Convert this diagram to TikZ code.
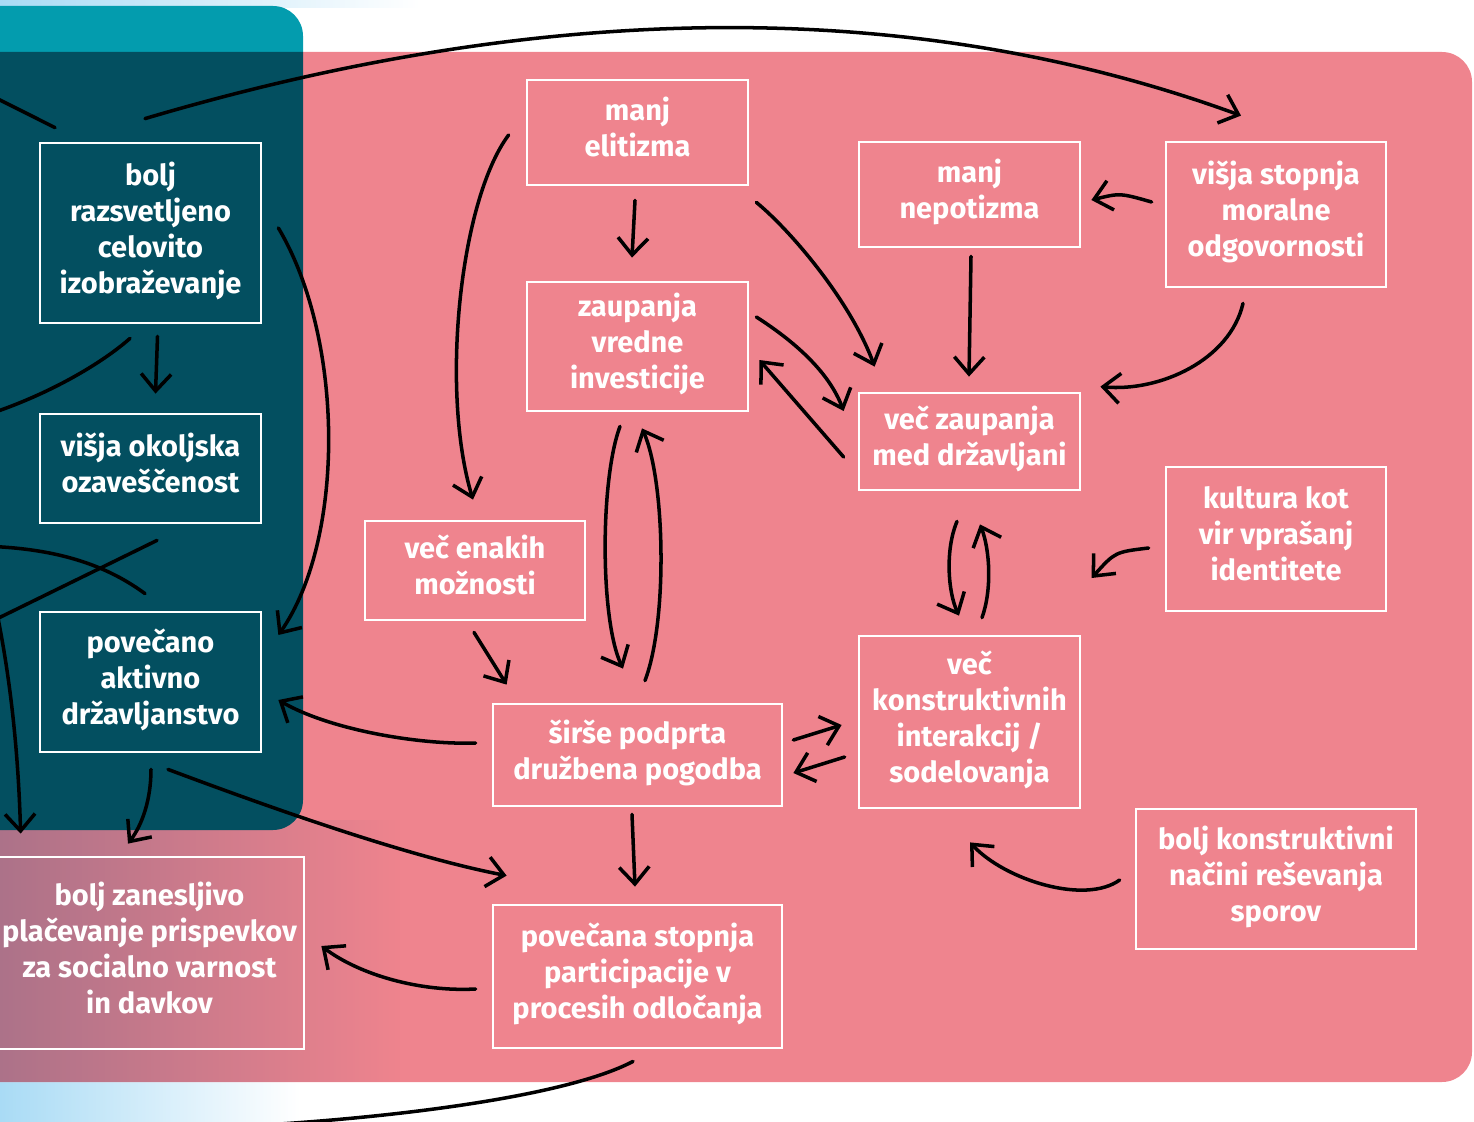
\documentclass[tikz,border=0pt]{standalone}
\usepackage{fontspec}
\setmainfont{Fira Sans}
\usetikzlibrary{arrows.meta,fadings}
\definecolor{rose}{HTML}{EF848E}
\definecolor{deepteal}{HTML}{034F60}
\definecolor{lagoon}{HTML}{039CAE}
\definecolor{skyblue}{HTML}{A9DBF5}
\definecolor{mauve}{HTML}{9C6E88}
\tikzset{
  box/.style={draw=white, line width=1.6pt, text=white, align=center, inner sep=0pt,
    font=\bfseries\fontsize{16.5}{20.5}\selectfont,
    execute at begin node={\rule{0pt}{19pt}},
    execute at end node={\rule[-6.5pt]{0pt}{6.5pt}}},
  arr/.style={line width=2pt, line cap=round, -{Straight Barb[length=0.34cm,width=0.6cm]}},
  lnk/.style={line width=2pt, line cap=round},
}
\begin{document}
\begin{tikzpicture}[x=0.02cm,y=-0.02cm]
        \useasboundingbox (0,0) rectangle (1474,1122);
        \clip (0,0) rectangle (1474,1122);
        % background
        \shade[left color=skyblue,right color=white] (0,0) rectangle (420,8);
        \shade[left color=skyblue,right color=white] (0,1080) rectangle (300,1122);
        \fill[rose] (-10,52) -- (1442,52) arc[start angle=-90,end angle=0,radius=30]
            -- (1472,1052) arc[start angle=0,end angle=90,radius=30] -- (-10,1082) -- cycle;
        \fill[mauve,path fading=east] (-100,820) rectangle (400,1082);
        \fill[lagoon] (-10,6) -- (273,6) arc[start angle=-90,end angle=0,radius=30]
            -- (303,52) -- (-10,52) -- cycle;
        \fill[deepteal] (-10,52) -- (303,52) -- (303,800)
            arc[start angle=0,end angle=90,radius=30] -- (-10,830) -- cycle;

        \node[box,minimum width=4.42cm,minimum height=3.6cm] (edu) at (150.5,233) {bolj\\razsvetljeno\\celovito\\izobraževanje};
        \node[box,minimum width=4.42cm,minimum height=2.18cm] (env) at (150.5,468.5) {višja okoljska\\ozaveščenost};
        \node[box,minimum width=4.42cm,minimum height=2.8cm] (act) at (150.5,682) {povečano\\aktivno\\državljanstvo};
        \node[box,minimum width=6.18cm,minimum height=3.84cm] (tax) at (149.5,953) {bolj zanesljivo\\plačevanje prispevkov\\za socialno varnost\\in davkov};
        \node[box,minimum width=4.42cm,minimum height=2.1cm] (elit) at (637.5,132.5) {manj\\elitizma};
        \node[box,minimum width=4.42cm,minimum height=2.58cm] (inv) at (637.5,346.5) {zaupanja\\vredne\\investicije};
        \node[box,minimum width=4.4cm,minimum height=1.98cm] (opp) at (475,570.5) {več enakih\\možnosti};
        \node[box,minimum width=5.78cm,minimum height=2.04cm] (pact) at (637.5,755) {širše podprta\\družbena pogodba};
        \node[box,minimum width=5.78cm,minimum height=2.86cm] (part) at (637.5,976.5) {povečana stopnja\\participacije v\\procesih odločanja};
        \node[box,minimum width=4.42cm,minimum height=2.1cm] (nep) at (969.5,194.5) {manj\\nepotizma};
        \node[box,minimum width=4.4cm,minimum height=2.9cm] (moral) at (1276,214.5) {višja stopnja\\moralne\\odgovornosti};
        \node[box,minimum width=4.42cm,minimum height=1.94cm] (trust) at (969.5,441.5) {več zaupanja\\med državljani};
        \node[box,minimum width=4.4cm,minimum height=2.88cm] (cult) at (1276,539) {kultura kot\\vir vprašanj\\identitete};
        \node[box,minimum width=4.42cm,minimum height=3.44cm] (coop) at (969.5,722) {več\\konstruktivnih\\interakcij /\\sodelovanja};
        \node[box,minimum width=5.6cm,minimum height=2.8cm] (conf) at (1276,879) {bolj konstruktivni\\načini reševanja\\sporov};

        \coordinate (inB) at (-30,85);
        \coordinate (outC) at (-30,420);
        \coordinate (inF) at (-30,546);
        \coordinate (outG) at (-30,632);
        \coordinate (inH) at (-8,590);
        \coordinate (outM) at (150,1130);

        \draw[arr] ([shift={(-5.5,-23)}]edu.north) .. controls (552,-2) and (919,-2) .. ([shift={(-35,-25)}]moral.north);
        \draw[lnk] (inB) -- ([shift={(-95.5,-14)}]edu.north);
        \draw[lnk] ([shift={(-20.5,14)}]edu.south) .. controls (100,365) and (40,400) .. (outC);
        \draw[arr] ([shift={(7,12)}]edu.south) -- ([shift={(5,-19)}]env.north);
        \draw[arr] ([shift={(16,-5)}]edu.east) .. controls (345,340) and (345,540) .. ([shift={(16,-47)}]act.east);
        \draw[lnk] (inF) .. controls (60,546) and (110,568) .. ([shift={(-5.5,-17)}]act.north);
        \draw[lnk] ([shift={(6.5,16)}]env.south) -- (outG);
        \draw[arr] (inH) .. controls (8,660) and (18,740) .. ([shift={(27,-22)}]tax.north west);
        \draw[arr] ([shift={(0.5,16)}]act.south) .. controls (151,800) and (142,825) .. ([shift={(-21.5,-12)}]tax.north);
        \draw[arr] ([shift={(17.5,16)}]act.south) .. controls (250,800) and (400,855) .. ([shift={(15,-28)}]part.north west);
        \draw[arr] ([shift={(-16,-12)}]pact.west) .. controls (420,745) and (330,730) .. ([shift={(16,18)}]act.east);
        \draw[arr] ([shift={(-16,12.5)}]part.west) .. controls (420,992) and (360,975) .. ([shift={(16,-7)}]tax.east);
        \draw[lnk] ([shift={(-4.5,12)}]part.south) .. controls (560,1100) and (350,1125) .. (outM);

        \draw[arr] ([shift={(-17,2.5)}]elit.west) .. controls (460,200) and (440,390) .. ([shift={(-2,-20)}]opp.north);
        \draw[arr] ([shift={(-2.5,14)}]elit.south) -- ([shift={(-5.5,-23)}]inv.north);
        \draw[arr] ([shift={(7,16)}]elit.south east) .. controls (790,230) and (850,300) .. ([shift={(17,-25)}]trust.north west);
        \draw[arr] ([shift={(7,-29.5)}]inv.east) .. controls (800,345) and (830,375) .. ([shift={(-14,-30.5)}]trust.west);
        \draw[arr] ([shift={(-14,15.5)}]trust.west) -- ([shift={(10,13.5)}]inv.east);
        \draw[arr] ([shift={(-17.5,14)}]inv.south) .. controls (600,480) and (600,620) .. ([shift={(-14.5,-34)}]pact.north);
        \draw[arr] ([shift={(7.5,-22)}]pact.north) .. controls (668,620) and (665,480) .. ([shift={(4.5,16)}]inv.south);
        \draw[arr] ([shift={(-1,11)}]opp.south) -- ([shift={(15,-18)}]pact.north west);
        \draw[arr] ([shift={(-5.5,7)}]pact.south) -- ([shift={(-2.5,-17)}]part.north);

        \draw[arr] ([shift={(1.5,8)}]nep.south) -- ([shift={(-0.5,-15)}]trust.north);
        \draw[arr] ([shift={(-13,-12.5)}]moral.west) .. controls (1120,193) .. ([shift={(10,5.5)}]nep.east);
        \draw[arr] ([shift={(-33,15)}]moral.south) .. controls (1230,360) and (1160,392) .. ([shift={(19,-5)}]trust.north east);
        \draw[arr] ([shift={(-16,9)}]cult.west) .. controls (1115,552) .. ([shift={(-73,39)}]cult.west);
        \draw[arr] ([shift={(-12.5,30)}]trust.south) .. controls (945,550) and (948,592) .. ([shift={(-10.5,-19)}]coop.north);
        \draw[arr] ([shift={(12.5,-17)}]coop.north) .. controls (992,590) and (990,550) .. ([shift={(10.5,33)}]trust.south);
        \draw[arr] ([shift={(10,-15)}]pact.east) -- ([shift={(-16,3)}]coop.west);
        \draw[arr] ([shift={(-13,35)}]coop.west) -- ([shift={(10,18)}]pact.east);
        \draw[arr] ([shift={(-15,1)}]conf.west) .. controls (1085,905) and (1005,880) .. ([shift={(0.5,33)}]coop.south);

    \end{tikzpicture}
\end{document}
